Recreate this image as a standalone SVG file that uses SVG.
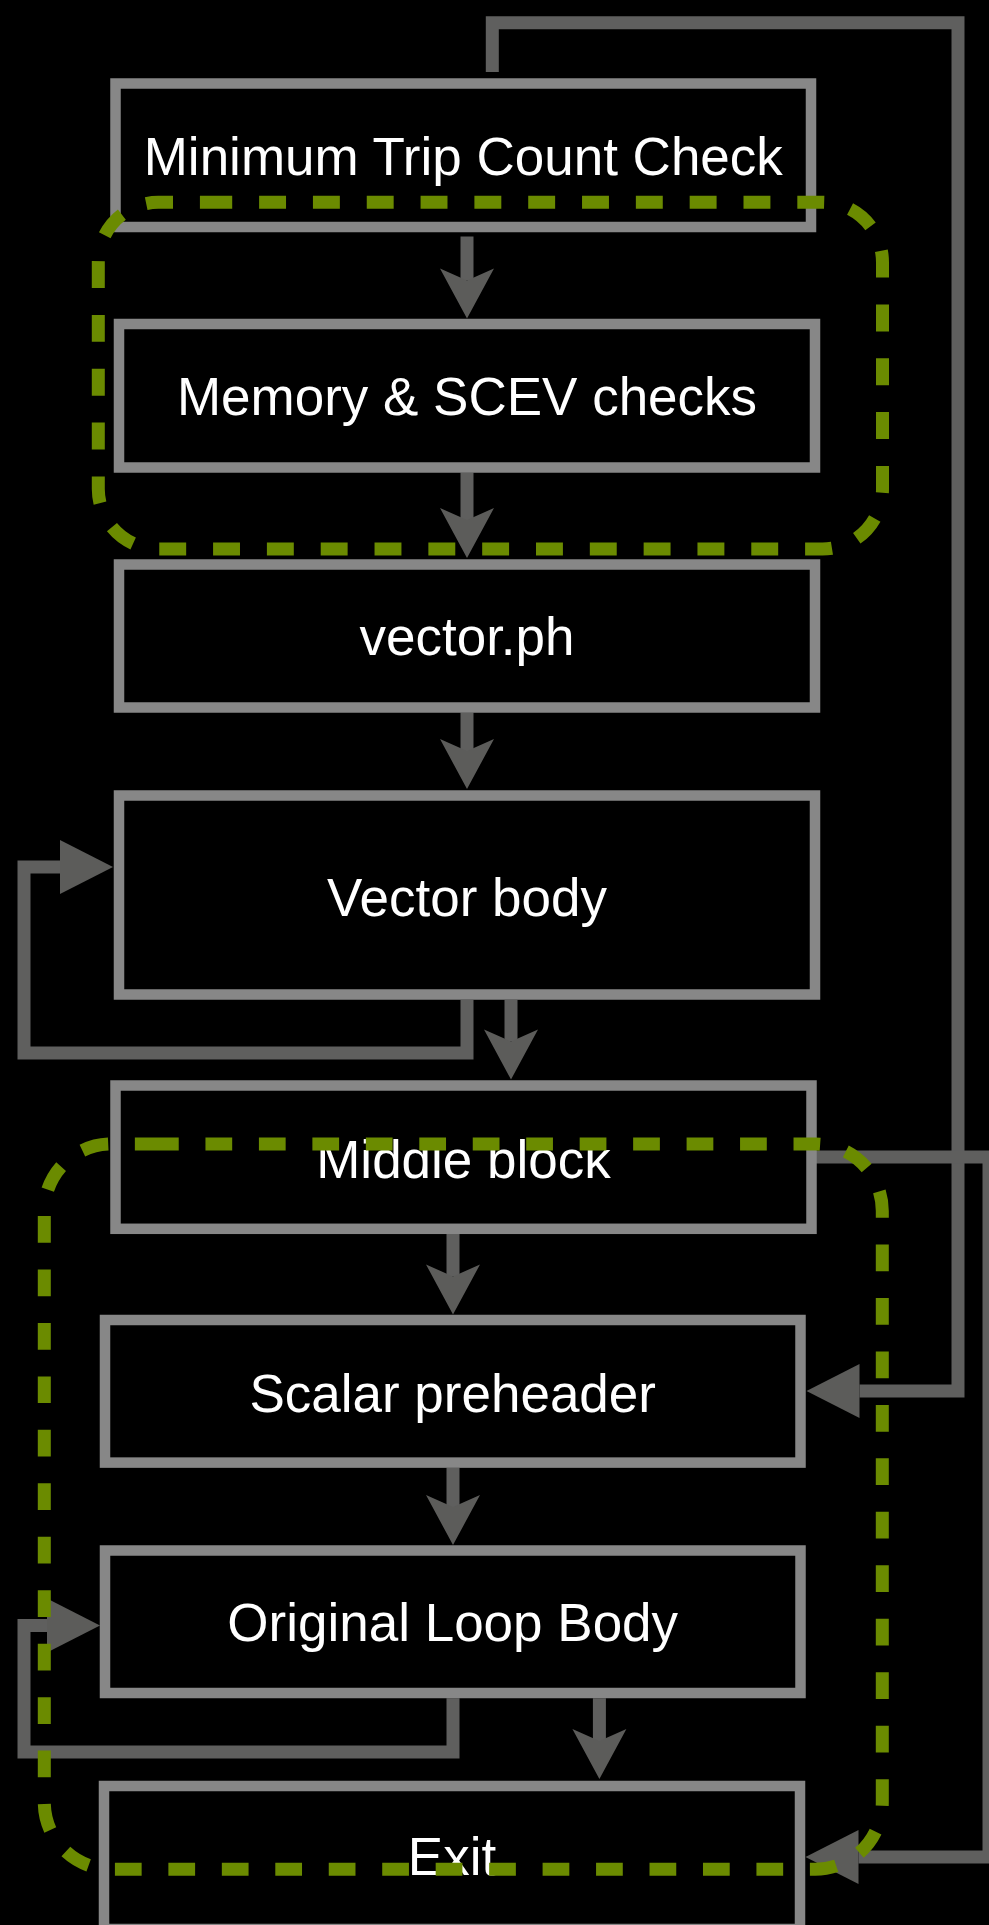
<svg xmlns="http://www.w3.org/2000/svg" width="989" height="1925" viewBox="0 0 989 1925">
<style>
.box{fill:#000;stroke:#878787;stroke-width:10.5}
.lbl{font-family:"Liberation Sans",Arial,Helvetica,sans-serif;font-size:53px;fill:#fff;text-anchor:middle}
.c{fill:none;stroke:#5f5f5e;stroke-width:13;stroke-linejoin:miter;stroke-linecap:butt}
.grp{fill:none;stroke:#6b8b00;stroke-width:13}
</style>
<defs>
<marker id="av" markerUnits="userSpaceOnUse" viewBox="0 -30 60 60" markerWidth="60" markerHeight="60" refX="12" refY="0" orient="auto" overflow="visible">
<path d="M0,-27 L50,0 L0,27 L12,0 Z" fill="#5c5c5a"/>
</marker>
<marker id="ah" markerUnits="userSpaceOnUse" viewBox="0 -30 60 60" markerWidth="60" markerHeight="60" refX="0" refY="0" orient="auto" overflow="visible">
<path d="M0,-27 L53,0 L0,27 Z" fill="#5c5c5a"/>
</marker>
</defs>
<rect x="0" y="0" width="989" height="1925" fill="#000"/>

<g id="connectors">
<path class="c" d="M492.3,72 V22.7 H958 V1391 H859.5" marker-end="url(#ah)"/>
<path class="c" d="M816,1157 H989 V1857 H858.5" marker-end="url(#ah)"/>
<path class="c" d="M467,236.5 V280.5" marker-end="url(#av)"/>
<path class="c" d="M467,472.6 V520" marker-end="url(#av)"/>
<path class="c" d="M467,712.6 V751" marker-end="url(#av)"/>
<path class="c" d="M467,1000 V1053 H24 V867 H60" marker-end="url(#ah)"/>
<path class="c" d="M511,1000 V1041.5" marker-end="url(#av)"/>
<path class="c" d="M453,1234 V1276.5" marker-end="url(#av)"/>
<path class="c" d="M453,1467.9 V1507" marker-end="url(#av)"/>
<path class="c" d="M453,1698.3 V1752 H24 V1625.5 H47" marker-end="url(#ah)"/>
<path class="c" d="M599.4,1698.3 V1741" marker-end="url(#av)"/>
</g>

<g id="node-min-trip">
<rect class="box" x="115.5" y="83.5" width="695.5" height="143.5"/>
<text class="lbl" x="463.3" y="175">Minimum Trip Count Check</text>
</g>
<g id="node-memory">
<rect class="box" x="119" y="324" width="696" height="143.5"/>
<text class="lbl" x="467" y="415">Memory &amp; SCEV checks</text>
</g>
<g id="node-vector-ph">
<rect class="box" x="119" y="564.5" width="696" height="143"/>
<text class="lbl" x="467" y="655">vector.ph</text>
</g>
<g id="node-vector-body">
<rect class="box" x="119" y="795.5" width="696" height="199"/>
<text class="lbl" x="467" y="915.5">Vector body</text>
</g>
<g id="node-middle">
<rect class="box" x="115.5" y="1085.5" width="696" height="143.3"/>
<text class="lbl" x="463.5" y="1178">Middle block</text>
</g>
<g id="node-scalar-ph">
<rect class="box" x="105" y="1320" width="695.5" height="142.6"/>
<text class="lbl" x="452.7" y="1411.5">Scalar preheader</text>
</g>
<g id="node-original">
<rect class="box" x="105" y="1550.5" width="695.5" height="142.5"/>
<text class="lbl" x="452.7" y="1640.5">Original Loop Body</text>
</g>
<g id="node-exit">
<rect class="box" x="104" y="1786" width="696" height="143"/>
<text class="lbl" x="452" y="1875">Exit</text>
</g>

<g id="group-checks">
<path class="grp" stroke-dasharray="26.91 26.91" d="M205.3,202.3 H822.5 A60,60 0 0 1 882.5,262.3 V489 A60,60 0 0 1 822.5,549 H158.3 A60,60 0 0 1 98.3,489 V262.3 A60,60 0 0 1 158.3,202.3 Z"/>
</g>
<g id="group-scalar">
<path class="grp" stroke-dasharray="26.73 26.73" d="M152,1144 H815.3 A67,67 0 0 1 882.3,1211 V1802.3 A67,67 0 0 1 815.3,1869.3 H111.3 A67,67 0 0 1 44.3,1802.3 V1211 A67,67 0 0 1 111.3,1144 Z"/>
</g>
</svg>
